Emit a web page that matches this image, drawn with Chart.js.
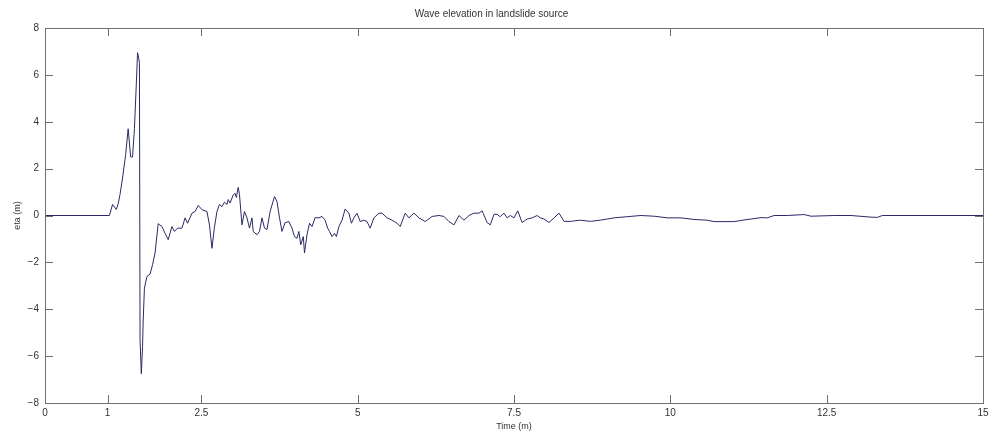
<!DOCTYPE html>
<html>
<head>
<meta charset="utf-8">
<script src="https://cdn.jsdelivr.net/npm/chart.js@4.4.1/dist/chart.umd.min.js"></script>
<style>
  html, body { margin: 0; padding: 0; background: #fff; }
  #wrap { width: 994px; height: 432px; }
</style>
</head>
<body>
<div id="wrap"><canvas id="waveCanvas" width="994" height="432"></canvas></div>
<script>
// time (x) and wave elevation (y)
var timeVals = [0, 1.03, 1.08, 1.14, 1.17, 1.20, 1.24, 1.27, 1.29, 1.33, 1.37, 1.40, 1.43, 1.46, 1.48, 1.50, 1.51,
  1.52, 1.54, 1.56, 1.57, 1.59, 1.63, 1.68, 1.72, 1.76, 1.81, 1.87, 1.92, 1.97, 2.03, 2.07, 2.12, 2.19, 2.24, 2.28,
  2.35, 2.40, 2.45, 2.51, 2.59, 2.63, 2.67, 2.71, 2.75, 2.79, 2.83, 2.87, 2.91, 2.93, 2.96, 3.01, 3.04, 3.06, 3.09,
  3.11, 3.15, 3.19, 3.23, 3.27, 3.31, 3.33, 3.39, 3.43, 3.47, 3.51, 3.55, 3.60, 3.67, 3.71, 3.75, 3.79, 3.84, 3.90,
  3.95, 3.99, 4.03, 4.06, 4.09, 4.13, 4.15, 4.19, 4.23, 4.27, 4.32, 4.38, 4.43, 4.48, 4.52, 4.55, 4.59, 4.63, 4.66,
  4.70, 4.75, 4.80, 4.86, 4.90, 4.94, 4.99, 5.04, 5.10, 5.15, 5.20, 5.26, 5.34, 5.39, 5.47, 5.55, 5.63, 5.68, 5.76,
  5.82, 5.90, 5.98, 6.08, 6.19, 6.30, 6.38, 6.46, 6.54, 6.62, 6.70, 6.78, 6.86, 6.94, 6.99, 7.07, 7.12, 7.18, 7.23,
  7.28, 7.34, 7.39, 7.44, 7.50, 7.56, 7.63, 7.71, 7.79, 7.87, 7.92, 7.98, 8.06, 8.14, 8.22, 8.30, 8.40, 8.56, 8.72,
  8.88, 9.10, 9.31, 9.53, 9.74, 9.95, 10.17, 10.38, 10.59, 10.70, 11.02, 11.18, 11.45, 11.55, 11.66, 11.87, 12.14,
  12.25, 12.62, 12.89, 13.21, 13.31, 13.39, 15];
var etaVals = [0, 0, 0.47, 0.26, 0.5, 0.9, 1.6, 2.2, 2.6, 3.7, 2.5, 2.5, 3.7, 5.6, 6.95, 6.7, 6.5,
  -5.3, -6.75, -5.6, -4.5, -3.1, -2.6, -2.5, -2.1, -1.6, -0.35, -0.47, -0.76, -1.03, -0.47, -0.68, -0.54, -0.54, -0.1, -0.33,
  0.1, 0.17, 0.43, 0.25, 0.17, -0.4, -1.4, -0.5, 0.17, 0.47, 0.38, 0.57, 0.47, 0.68, 0.53, 0.88, 0.95, 0.77, 1.2,
  0.9, -0.4, 0.17, -0.1, -0.54, -0.1, -0.68, -0.82, -0.68, -0.1, -0.54, -0.6, 0.17, 0.81, 0.6, -0.1, -0.68, -0.3, -0.26,
  -0.54, -0.9, -0.97, -0.68, -1.25, -0.9, -1.6, -0.82, -0.33, -0.47, -0.09, -0.1, -0.04, -0.2, -0.54, -0.68, -0.9, -0.76, -0.9,
  -0.47, -0.2, 0.28, 0.1, -0.33, -0.1, 0.1, -0.26, -0.2, -0.26, -0.54, -0.1, 0.1, 0.1, -0.1, -0.2, -0.33, -0.47, 0.1,
  -0.1, 0.1, -0.1, -0.26, -0.04, 0.0, -0.04, -0.26, -0.4, 0.0, -0.2, 0.0, 0.1, 0.1, 0.2, -0.3, -0.4, 0.05, 0.05,
  -0.05, 0.1, -0.1, 0.0, -0.1, 0.2, -0.3, -0.15, -0.1, 0.0, -0.1, -0.15, -0.3, -0.1, 0.1, -0.25, -0.25, -0.2, -0.25,
  -0.2, -0.1, -0.05, 0.0, -0.03, -0.1, -0.1, -0.17, -0.2, -0.26, -0.26, -0.19, -0.09, -0.1, 0.0, 0.0, 0.04,
  -0.03, 0.0, 0.0, -0.07, -0.08, 0.0, 0];
var xTicks = [0, 1, 2.5, 5, 7.5, 10, 12.5, 15];
var yTicks = [-8, -6, -4, -2, 0, 2, 4, 6, 8];

var points = timeVals.map(function (t, i) { return { x: t, y: etaVals[i] }; });

// matlab style box with inward tick marks on all four sides
var boxTicks = {
  id: 'boxTicks',
  afterDraw: function (chart) {
    var ctx = chart.ctx, a = chart.chartArea;
    var xs = chart.scales.x, ys = chart.scales.y;
    var len = 8;
    ctx.save();
    ctx.strokeStyle = '#707070';
    ctx.lineWidth = 1;
    ctx.strokeRect(Math.round(a.left) + 0.5, Math.round(a.top) + 0.5,
      Math.round(a.right - a.left), Math.round(a.bottom - a.top));
    ctx.beginPath();
    xTicks.forEach(function (v) {
      var px = Math.round(xs.getPixelForValue(v)) + 0.5;
      ctx.moveTo(px, a.bottom); ctx.lineTo(px, a.bottom - len);
      ctx.moveTo(px, a.top); ctx.lineTo(px, a.top + len);
    });
    yTicks.forEach(function (v) {
      var py = Math.round(ys.getPixelForValue(v)) + 0.5;
      ctx.moveTo(a.left, py); ctx.lineTo(a.left + len, py);
      ctx.moveTo(a.right, py); ctx.lineTo(a.right - len, py);
    });
    ctx.stroke();
    ctx.restore();
  }
};

var myChart = new Chart(document.getElementById('waveCanvas'), {
  type: 'line',
  data: {
    datasets: [{
      label: 'eta',
      data: points,
      borderColor: '#2a2a66',
      borderWidth: 1,
      pointRadius: 0,
      tension: 0,
      fill: false
    }]
  },
  options: {
    responsive: false,
    animation: false,
    events: [],
    layout: { padding: { left: 0, right: 11, top: 0, bottom: 0 } },
    plugins: {
      legend: { display: false },
      tooltip: { enabled: false },
      title: {
        display: true,
        text: 'Wave elevation in landslide source',
        color: '#333',
        font: { family: 'Liberation Sans, Arial, sans-serif', size: 10, weight: 'normal' },
        padding: { top: 8, bottom: 8 }
      }
    },
    scales: {
      x: {
        type: 'linear',
        min: 0, max: 15,
        afterBuildTicks: function (s) { s.ticks = xTicks.map(function (v) { return { value: v }; }); },
        afterFit: function (s) { s.height = 29; },
        grid: { display: false, drawTicks: false },
        border: { display: false },
        ticks: {
          color: '#333', padding: 4, maxRotation: 0, autoSkip: false,
          font: { family: 'Liberation Sans, Arial, sans-serif', size: 10 }
        },
        title: {
          display: true, text: 'Time (m)', color: '#333',
          padding: { top: 0, bottom: 0 },
          font: { family: 'Liberation Sans, Arial, sans-serif', size: 9 }
        }
      },
      y: {
        min: -8, max: 8,
        afterBuildTicks: function (s) { s.ticks = yTicks.map(function (v) { return { value: v }; }); },
        afterFit: function (s) { s.width = 45; },
        grid: { display: false, drawTicks: false },
        border: { display: false },
        ticks: {
          color: '#333', padding: 6,
          font: { family: 'Liberation Sans, Arial, sans-serif', size: 10 },
          callback: function (v) { return v < 0 ? '\u2212' + Math.abs(v) : String(v); }
        },
        title: {
          display: true, text: 'eta (m)', color: '#333',
          padding: { top: 12, bottom: 0 },
          font: { family: 'Liberation Sans, Arial, sans-serif', size: 9 }
        }
      }
    }
  },
  plugins: [boxTicks]
});
</script>
</body>
</html>
